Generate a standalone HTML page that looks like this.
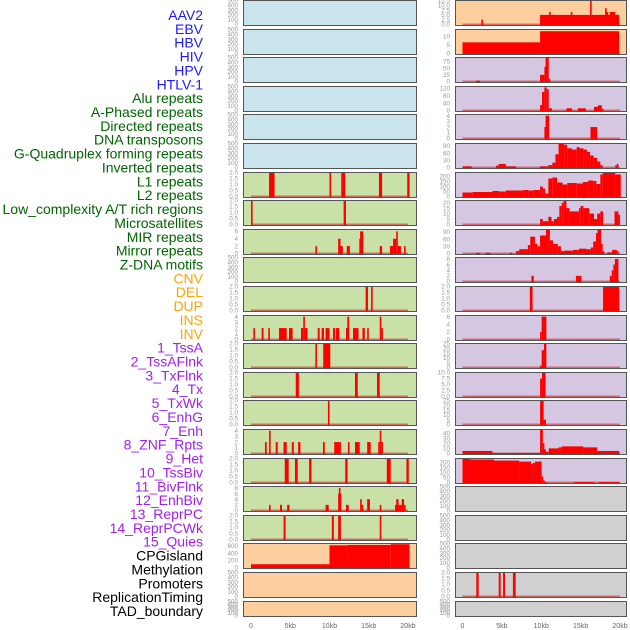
<!DOCTYPE html>
<html><head><meta charset="utf-8"><style>
html,body{margin:0;padding:0;background:#fff;}
svg{display:block;font-family:"Liberation Sans",sans-serif;}
</style></head><body>
<svg id="chart" width="630" height="630" viewBox="0 0 630 630" xmlns="http://www.w3.org/2000/svg">
<g id="labels"></g>
<g id="panels"></g>
<g id="xaxes"></g>
</svg>
<script>
// ---- data ----
const featureLabels = ["AAV2","EBV","HBV","HIV","HPV","HTLV-1","Alu repeats","A-Phased repeats","Directed repeats","DNA transposons","G-Quadruplex forming repeats","Inverted repeats","L1 repeats","L2 repeats","Low_complexity A/T rich regions","Microsatellites","MIR repeats","Mirror repeats","Z-DNA motifs","CNV","DEL","DUP","INS","INV","1_TssA","2_TssAFlnk","3_TxFlnk","4_Tx","5_TxWk","6_EnhG","7_Enh","8_ZNF_Rpts","9_Het","10_TssBiv","11_BivFlnk","12_EnhBiv","13_ReprPC","14_ReprPCWk","15_Quies","CPGisland","Methylation","Promoters","ReplicationTiming","TAD_boundary"];
const labelGroups = ["v","v","v","v","v","v","r","r","r","r","r","r","r","r","r","r","r","r","r","s","s","s","s","s","c","c","c","c","c","c","c","c","c","c","c","c","c","c","c","k","k","k","k","k"];
const xTickLabels = ["0","5kb","10kb","15kb","20kb"];
const xTickValues = [0,5,10,15,20];

// bars: [startKb, endKb, value]
const L6 = [[2.3,3.0,2],[10.0,10.2,2],[11.5,12.0,2],[16.3,16.7,2],[19.9,20.2,2]];
const L7 = [[0,0.12,2],[11.8,12.1,2]];
const L8 = [[8.2,8.4,2],[11.1,11.4,4],[11.4,11.7,2],[12.2,12.6,2],[13.8,13.9,4],[13.9,14.3,6],[16.4,16.7,2],[17.7,18.1,2],[18.1,18.5,4],[18.5,18.7,6],[18.7,19.1,2],[19.5,19.7,2]];
const L10 = [[14.6,14.9,2],[15.3,15.5,2]];
const L11 = [[0.3,0.5,2],[1.36,1.6,2],[2.2,2.4,2],[3.57,4.55,2],[4.84,5.3,2],[6.37,6.66,2],[6.66,6.84,4],[6.84,7.2,2],[8.5,8.75,2],[9.0,9.3,2],[9.5,10.0,2],[10.45,10.7,2],[10.8,11.25,2],[12.1,12.27,2],[12.27,12.5,4],[13.0,13.7,2],[14.2,14.5,2],[14.8,15.0,2],[16.4,16.6,4],[16.6,16.7,2]];
const L12 = [[8.2,8.4,2],[9.2,10.1,2]];
const L13 = [[5.7,6.1,2],[13.25,13.6,2],[16.05,16.4,2]];
const L14 = [[9.8,10.0,2]];
const L15 = [[1.78,2.0,2],[2.3,2.5,4],[3.15,3.4,2],[4.15,4.55,2],[5.2,5.45,2],[6.0,6.3,2],[9.17,9.4,2],[10.6,11.45,2],[12.35,12.55,2],[13.25,13.85,2],[14.8,15.25,2],[16.2,16.4,2],[16.4,16.6,4],[16.6,16.65,2]];
const L16 = [[4.3,4.8,2],[5.6,5.95,2],[7.4,7.7,2],[12.0,12.3,2],[17.3,17.8,2],[19.8,20.1,2]];
const L17 = [[2.3,2.5,2],[3.7,3.95,2],[4.6,4.9,2],[9.5,9.9,2],[11.1,11.2,6],[11.2,11.3,8],[11.3,11.4,6],[12.1,12.45,2],[13.9,14.1,4],[14.1,14.2,2],[14.8,15.15,4],[16.4,16.6,2],[18.35,18.5,2],[18.5,18.8,4],[18.8,19.2,2],[19.2,19.5,4],[19.5,19.6,2]];
const L18 = [[4.15,4.4,2],[10.3,10.55,2],[11.1,11.45,2],[16.4,16.6,2]];
const L19 = [[0,10,90],[10,12.3,620],[12.3,17.8,630],[17.8,20.2,650]];

const R0 = [[2.4,2.6,2.5],[9.85,19.9,5],[11.0,11.2,6.5],[13.75,13.9,6.5],[16.2,16.35,12.5],[18.1,18.3,8.5],[18.3,18.45,6.5],[18.7,19.4,6.5]];
const R1 = [[0,9.85,6.5],[9.85,19.9,13]];
const R2 = [[1.7,2.2,3],[9.85,10.4,25],[10.4,10.55,55],[10.55,10.95,90],[10.95,11.1,10]];
const R3 = [[9.85,10.1,30],[10.1,10.4,100],[10.4,10.7,125],[10.7,10.95,115],[10.95,11.35,12],[13.2,13.9,12],[14.65,15.65,12],[16.7,17.2,20],[17.2,17.7,28],[17.7,17.85,10]];
const R4 = [[10.4,10.55,2],[10.55,11.0,4],[16.25,17.1,2]];
const R5 = [[0,1.17,5],[4.25,4.6,8],[4.6,5.5,15],[5.5,6.8,5],[9.85,10.9,5],[10.9,11.4,10],[11.4,11.8,20],[11.8,12.2,55],[12.2,12.9,100],[12.9,13.3,95],[13.3,13.9,80],[13.9,14.5,75],[14.5,14.85,85],[14.85,15.35,80],[15.35,15.8,75],[15.8,16.2,65],[16.2,16.65,50],[16.65,17.1,40],[17.1,17.5,25],[17.5,17.8,10],[19.4,19.6,10],[19.6,19.8,15]];
const R6 = [[0,1.3,40],[1.3,3.8,45],[3.8,4.65,55],[4.65,5.5,50],[5.5,7.7,60],[7.7,8.4,65],[8.4,9.0,60],[9.0,9.85,65],[9.85,10.2,100],[10.2,10.5,80],[10.5,10.9,30],[10.9,11.4,180],[11.4,12.0,190],[12.0,12.7,140],[12.7,13.3,120],[13.3,14.5,135],[14.5,15.3,130],[15.3,15.95,145],[15.95,16.6,160],[16.6,17.0,155],[17.0,17.5,125],[17.5,17.8,220],[17.8,19.4,235],[19.4,20.1,220]];
const R7 = [[9.85,10.2,5],[10.2,10.9,3],[10.9,11.3,7],[11.3,11.6,3],[11.6,12.0,5],[12.0,12.3,7],[12.3,12.6,17],[12.6,12.85,20],[12.85,13.2,22],[13.2,13.6,15],[13.6,14.8,12],[14.8,15.0,15],[15.0,15.35,17],[15.35,16.1,15],[16.1,16.7,10],[16.7,17.1,5],[17.1,17.5,10],[17.5,17.85,12],[19.3,19.8,12],[19.8,20.0,9]];
const R8 = [[1.7,2.2,3],[2.9,3.6,3],[6.0,6.3,3],[6.8,7.2,10],[7.2,8.3,18],[8.3,8.6,35],[8.6,9.2,70],[9.2,9.5,40],[9.5,9.85,30],[9.85,10.6,75],[10.6,11.1,100],[11.1,11.5,55],[11.5,12.1,40],[12.1,12.5,30],[12.5,12.9,10],[12.9,14.0,12],[14.0,14.8,15],[14.8,15.7,20],[15.7,16.3,18],[16.3,16.6,25],[16.6,16.95,50],[16.95,17.15,85],[17.15,17.6,100],[17.6,17.8,40],[17.8,18.0,10],[18.4,19.0,5],[19.0,19.6,15],[19.6,19.8,10]];
const R9 = [[8.75,9.05,2],[14.4,15.1,2],[18.7,18.95,2],[18.95,19.15,4],[19.15,19.35,6],[19.35,19.8,8]];
const R10 = [[8.55,8.9,2],[17.85,19.9,2]];
const R11 = [[9.85,10.05,2],[10.05,10.65,6]];
const R12 = [[9.85,10.05,2],[10.05,10.35,18],[10.35,10.65,25]];
const R13 = [[9.85,10.1,7.5],[10.1,10.55,10]];
const R14 = [[9.85,10.3,25],[10.3,10.6,5]];
const R15 = [[0,3.8,5],[3.8,9.85,1],[9.85,10.2,47],[10.2,10.35,20],[10.35,10.6,8],[10.6,10.95,3],[10.95,12.2,10],[12.2,12.6,12],[12.6,15.35,14],[15.35,17.1,12],[17.1,19.9,5]];
const R16 = [[0,0.95,230],[0.95,4.0,225],[4.0,7.2,215],[7.2,8.7,205],[8.7,8.9,180],[8.9,9.2,190],[9.2,10.05,205],[10.05,10.25,60],[10.25,10.45,20],[10.45,10.7,5],[14.2,16.8,4],[17.3,19.9,4]];
const R20 = [[1.75,2.05,2],[4.6,4.85,2],[5.15,5.4,2],[6.4,6.75,2]];

const T500 = ["0","100","200","300","400","500"];
const T2 = ["0.0","0.5","1.0","1.5","2.0"];
const leftRows = [
 ["b",500,T500,null],["b",500,T500,null],["b",500,T500,null],["b",500,T500,null],["b",500,T500,null],["b",500,T500,null],
 ["g",2,T2,L6],["g",2,T2,L7],["g",6.5,["0","2","4","6"],L8],["g",500,T500,null],["g",2,T2,L10],
 ["g",4.2,["0","1","2","3","4"],L11],["g",2,T2,L12],["g",2,T2,L13],["g",2,T2,L14],["g",4.2,["0","1","2","3","4"],L15],
 ["g",2,T2,L16],["g",8.5,["0","2","4","6","8"],L17],["g",2,T2,L18],["o",670,["0","200","400","600"],L19],
 ["o",500,T500,null],["o",500,T500,null]];
const rightRows = [
 ["o",12.5,["0.0","2.5","5.0","7.5","10.0","12.5"],R0],["o",14,["0","5","10"],R1],["p",90,["0","25","50","75"],R2],
 ["p",130,["0","40","80","120"],R3],["p",4.2,["0","1","2","3","4"],R4],["p",100,["0","30","60","90"],R5],
 ["p",240,["0","50","100","150","200"],R6],["p",22,["0","5","10","15","20"],R7],["p",100,["0","30","60","90"],R8],
 ["p",8.5,["0","2","4","6","8"],R9],["p",2,T2,R10],["p",6.3,["0","2","4","6"],R11],["p",25,["0","5","10","15","20","25"],R12],
 ["p",10,["0.0","2.5","5.0","7.5","10.0"],R13],["p",25,["0","5","10","15","20","25"],R14],["p",47,["0","10","20","30","40"],R15],
 ["p",235,["0","50","100","150","200"],R16],["k",500,T500,null],["k",500,T500,null],["k",500,T500,null],
 ["k",2,T2,R20],["k",500,T500,null]];

// ---- rendering ----
const NS = "http://www.w3.org/2000/svg";
const fills = {b:"#c9e4ec",g:"#c9e1a6",o:"#fecf9e",p:"#d5c7e2",k:"#d0d0d0"};
const labelColors = {v:"#1a1aff",r:"#006400",s:"#ffa500",c:"#a020f0",k:"#000000"};
function mk(tag, attrs, parent){const e=document.createElementNS(NS,tag);for(const k in attrs)e.setAttribute(k,attrs[k]);parent.appendChild(e);return e;}

const gl = document.getElementById("labels");
const labelStep = (611-15)/(featureLabels.length-1);
featureLabels.forEach((t,i)=>{
  const el = mk("text",{x:203,y:15+i*labelStep+5,"text-anchor":"end","font-size":"14",fill:labelColors[labelGroups[i]]},gl);
  el.textContent = t;
  
  
});

const cols = [
  {rows:leftRows, px:243, pw:173, x0:251, sc:7.85, tickX:238, name:"left"},
  {rows:rightRows, px:455, pw:171, x0:462.5, sc:7.875, tickX:450, name:"right"}
];
const gp = document.getElementById("panels");
cols.forEach(c=>{
  const xs = kb => c.x0 + kb*c.sc;
  c.rows.forEach((r,i)=>{
    const [col,ymax,ticks,bars] = r;
    const top = Math.round(i*28.6)+0.5;
    const h = i===21 ? 15 : 25;
    const bot = top+h;
    const ys = v => bot-1 - v/ymax*(h-1);
    const g = mk("g",{},gp);
    
    
    mk("rect",{x:c.px+0.5,y:top,width:c.pw,height:h,fill:fills[col],stroke:"none"},g);
    if(bars){
      mk("line",{x1:xs(0),x2:xs(20),y1:bot-1.2,y2:bot-1.2,stroke:"#d84040","stroke-width":1.6,opacity:0.7},g);
      bars.forEach(b=>{
        const x1=xs(b[0]), x2=xs(b[1]);
        const y=ys(Math.min(b[2],ymax));
        const bar = mk("rect",{x:x1,y:Math.max(top,y),width:Math.max(1.6,x2-x1),height:bot-Math.max(top,y),fill:"#ff0000"},g);
        
        
      });
    }
    mk("rect",{x:c.px+0.5,y:top,width:c.pw,height:h,fill:"none",stroke:"#555","stroke-width":1},g);
    ticks.forEach((t,j)=>{
      const v = (ticks===T500) ? j*100*ymax/500 : parseFloat(t);
      const yy = ys(v);
      const tl = mk("text",{x:c.tickX,y:yy+2.2,"text-anchor":"end","font-size":"6.3",fill:"#999"},g);
      tl.textContent = t;
      
      
    });
  });
  const gx = document.getElementById("xaxes");
  xTickValues.forEach((v,j)=>{
    const t = mk("text",{x:xs(v),y:628,"text-anchor":"middle","font-size":"7",fill:"#666"},gx);
    t.textContent = xTickLabels[j];
    
    
  });
});
</script>
</body></html>
